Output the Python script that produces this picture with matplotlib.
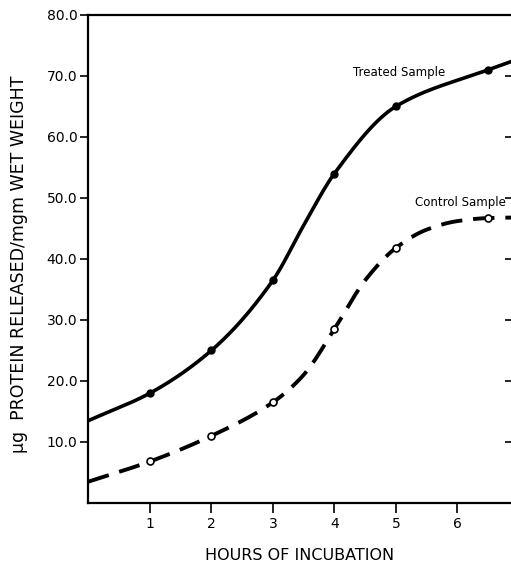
import numpy as np
import matplotlib
matplotlib.use("Agg")
import matplotlib.pyplot as plt

# measured points (hours, ug protein / mgm wet weight)
hours = [1, 2, 3, 4, 5, 6.5]
treated = [18.0, 25.0, 36.5, 54.0, 65.0, 71.0]
control = [6.8, 11.0, 16.5, 28.5, 41.8, 46.7]

# hand-drawn smooth curves, knots
treated_curve_x = [0, 1, 2, 3, 3.5, 4, 5, 6.5, 7.0]
treated_curve_y = [13.5, 18.0, 25.0, 36.5, 45.5, 54.0, 65.0, 71.0, 72.8]
control_curve_x = [0, 1, 2, 3, 3.5, 4, 4.5, 5, 5.5, 6, 6.5, 7.0]
control_curve_y = [3.5, 6.8, 11.0, 16.5, 21.0, 28.5, 36.5, 41.8, 44.8, 46.2, 46.7, 46.8]

yticks = [10, 20, 30, 40, 50, 60, 70, 80]
ytick_labels = ["10.0", "20.0", "30.0", "40.0", "50.0", "60.0", "70.0", "80.0"]
xticks = [1, 2, 3, 4, 5, 6]


def pchip(x, y, xs):
    # monotone cubic (Fritsch-Carlson) so the curves look drawn by hand
    x = np.asarray(x, float)
    y = np.asarray(y, float)
    h = np.diff(x)
    d = np.diff(y) / h
    m = np.zeros_like(y)
    for k in range(1, len(x) - 1):
        if d[k - 1] * d[k] > 0:
            w1 = 2 * h[k] + h[k - 1]
            w2 = h[k] + 2 * h[k - 1]
            m[k] = (w1 + w2) / (w1 / d[k - 1] + w2 / d[k])
    m[0] = d[0]
    m[-1] = d[-1]
    i = np.clip(np.searchsorted(x, xs) - 1, 0, len(h) - 1)
    t = (xs - x[i]) / h[i]
    h00 = 2 * t**3 - 3 * t**2 + 1
    h10 = t**3 - 2 * t**2 + t
    h01 = -2 * t**3 + 3 * t**2
    h11 = t**3 - t**2
    return h00 * y[i] + h10 * h[i] * m[i] + h01 * y[i + 1] + h11 * h[i] * m[i + 1]


plt.rcParams["font.family"] = ["DejaVu Sans"]

fig = plt.figure(figsize=(5.11, 5.63), dpi=100)
ax = fig.add_axes([0.173, 0.1066, 0.8425, 0.867])

xs = np.linspace(0, 7.0, 400)
ax.plot(xs, pchip(treated_curve_x, treated_curve_y, xs), color="black", lw=2.6,
        solid_capstyle="butt")
ax.plot(xs, pchip(control_curve_x, control_curve_y, xs), color="black", lw=2.8,
        dashes=(5.5, 2.8), dash_capstyle="butt")

ax.plot(hours, treated, "o", ms=5, mfc="black", mec="black", zorder=3)
ax.plot(hours, control, "o", ms=5, mfc="white", mec="black", mew=1.2, zorder=3)

ax.text(4.3, 70.5, "Treated Sample", fontsize=8.5, va="center")
ax.text(5.31, 49.3, "Control Sample", fontsize=8.5, va="center")

ax.set_xlim(0, 7.0)
ax.set_ylim(0, 80)
ax.set_xticks(xticks)
ax.set_xticklabels([str(v) for v in xticks], fontsize=10)
ax.set_yticks(yticks)
ax.set_yticklabels(ytick_labels, fontsize=10)
ax.tick_params(axis="x", direction="out", length=7, width=1.2, pad=3)
ax.tick_params(axis="y", direction="out", length=6, width=1.2, pad=2, right=True)
for side in ["left", "bottom", "top", "right"]:
    ax.spines[side].set_linewidth(1.6)
# right-hand ticks point inward
for t in ax.yaxis.get_major_ticks():
    t.tick2line.set_marker(matplotlib.lines.TICKLEFT)
    t.tick2line.set_markersize(10)

ax.set_xlabel("HOURS OF INCUBATION", fontsize=11.5)
ax.set_ylabel("\u00b5g  PROTEIN RELEASED/mgm WET WEIGHT", fontsize=12.5)
ax.xaxis.set_label_coords(0.49, -0.092)
ax.yaxis.set_label_coords(-0.14, 0.49)

fig.savefig("out.png", dpi=100)
